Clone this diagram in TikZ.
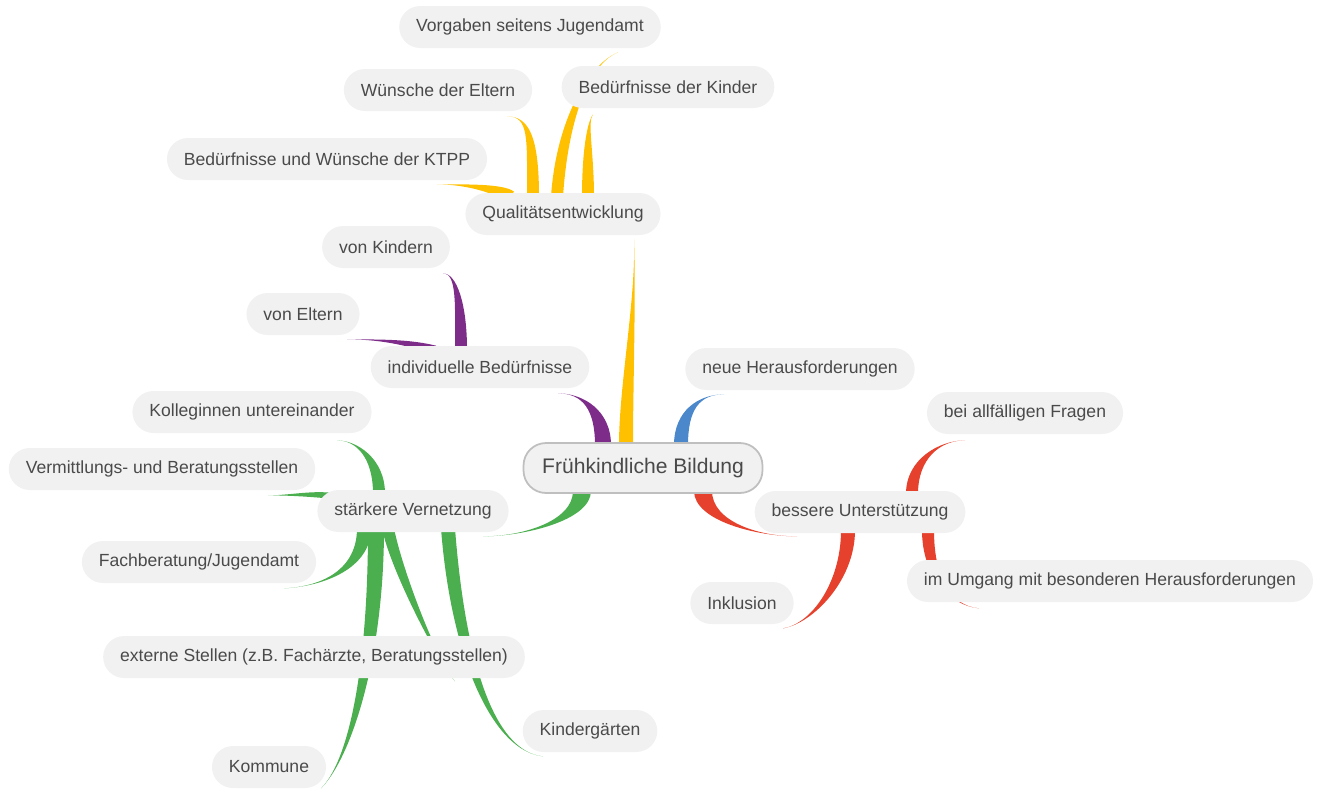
\documentclass[tikz,border=0pt]{standalone}
\usepackage{fontspec}
\setmainfont{Liberation Sans}
\usetikzlibrary{calc}
\pgfdeclarelayer{background}
\pgfsetlayers{background,main}

\definecolor{bubble}{RGB}{241,241,241}
\definecolor{ink}{RGB}{74,74,74}
\definecolor{yel}{RGB}{255,192,0}
\definecolor{pur}{RGB}{125,44,138}
\definecolor{blu}{RGB}{74,135,203}
\definecolor{rd}{RGB}{229,65,45}
\definecolor{grn}{RGB}{75,174,79}

% tapered branch: colour, half width, start anchor, shift, start ctrl, end ctrl, end anchor, shift
\newcommand{\twig}[8]{%
  \coordinate (tws) at ($(#3)+(#4)$);
  \coordinate (twe) at ($(#7)+(#8)$);
  \fill[#1] ($(tws)+(#2)$) .. controls +(#5) and +(#6) .. (twe)
    .. controls +(#6) and +(#5) .. ($(tws)-(#2)$) -- cycle;}

\begin{document}
\begin{tikzpicture}[
    x=0.02cm, y=-0.02cm,
    leaf/.style={fill=bubble, text=ink, rounded corners=0.42cm,
                 inner xsep=0.34cm, minimum height=0.84cm,
                 font=\fontsize{10}{12}\selectfont},
    hub/.style={fill=bubble, draw=black!25, line width=1pt, text=ink,
                rounded corners=0.45cm, minimum width=4.78cm,
                minimum height=1cm, font=\fontsize{12}{14}\selectfont}
]
    \useasboundingbox (0,0) rectangle (1335,789);

    % centre
    \node[hub] (root) at (643,468) {Frühkindliche Bildung};

    % Qualitaetsentwicklung
    \node[leaf] (qual) at (563,214) {Qualitätsentwicklung};
    \node[leaf] (vorg) at (530,27)  {Vorgaben seitens Jugendamt};
    \node[leaf] (kind) at (668,87)  {Bedürfnisse der Kinder};
    \node[leaf] (elt)  at (438,90)  {Wünsche der Eltern};
    \node[leaf] (ktpp) at (327,159) {Bedürfnisse und Wünsche der KTPP};

    % individuelle Beduerfnisse
    \node[leaf] (indi)  at (480,367) {individuelle Bedürfnisse};
    \node[leaf] (vkind) at (386,247) {von Kindern};
    \node[leaf] (velt)  at (303,314) {von Eltern};

    % neue Herausforderungen
    \node[leaf] (neue) at (800,369) {neue Herausforderungen};

    % bessere Unterstuetzung
    \node[leaf] (unter) at (860,512)  {bessere Unterstützung};
    \node[leaf] (frag)  at (1025,413) {bei allfälligen Fragen};
    \node[leaf] (umg)   at (1110,581) {im Umgang mit besonderen Herausforderungen};
    \node[leaf] (inkl)  at (742,603)  {Inklusion};

    % staerkere Vernetzung
    \node[leaf] (vern) at (413,511) {stärkere Vernetzung};
    \node[leaf] (koll) at (252,412) {Kolleginnen untereinander};
    \node[leaf] (verm) at (162,469) {Vermittlungs- und Beratungsstellen};
    \node[leaf] (fach) at (199,562) {Fachberatung/Jugendamt};
    \node[leaf] (ext)  at (314,657) {externe Stellen (z.B. Fachärzte, Beratungsstellen)};
    \node[leaf] (kg)   at (590,731) {Kindergärten};
    \node[leaf] (komm) at (269,767) {Kommune};

    \begin{pgfonlayer}{background}
    % main branches
    \twig{yel}{7,0}{root.north}{-17,3}{0,-60}{2,60}{qual.south}{71,4}
    \twig{pur}{8,0}{root.north}{-40,3}{0,-35}{25,0}{indi.south}{78,5}
    \twig{blu}{7,0}{root.north}{38,3}{0,-35}{-25,0}{neue.south}{-76,4}
    \twig{rd}{9,0}{root.south}{60,-3}{0,30}{-40,0}{unter.south}{-63,3}
    \twig{grn}{9,0}{root.south}{-61,-3}{0,30}{40,0}{vern.south}{70,4}

    % Qualitaetsentwicklung
    \twig{yel}{4,-5}{qual.north}{-53,4}{-10,-8}{30,0}{ktpp.south}{110,4}
    \twig{yel}{6,0}{qual.north}{-30,4}{0,-60}{22,0}{elt.south}{69,5}
    \twig{yel}{6,0}{qual.north}{-6,4}{5,-75}{-30,12}{vorg.south}{88,4}
    \twig{yel}{6,0}{qual.north}{25,4}{0,-45}{-6,8}{kind.south}{-75,6}

    % individuelle Beduerfnisse
    \twig{pur}{6,0}{indi.north}{-19,4}{0,-45}{14,0}{vkind.south}{57,5}
    \twig{pur}{0,4}{indi.north}{-44,4}{-25,-6}{40,0}{velt.south}{44,4}

    % staerkere Vernetzung
    \twig{grn}{6,0}{vern.north}{-34,4}{0,-35}{20,0}{koll.south}{85,7}
    \twig{grn}{0,3}{vern.north}{-83,6}{-20,-2}{20,0}{verm.south}{106,5}
    \twig{grn}{7,0}{vern.south}{-49,-4}{0,40}{40,-2}{fach.south}{85,5}
    \twig{grn}{6,0}{vern.south}{-25,-4}{8,40}{-20,-25}{ext.south}{141,3}
    \twig{grn}{8,0}{vern.south}{-37,-4}{0,130}{30,-30}{komm.south}{52,0}
    \twig{grn}{7,0}{vern.south}{35,-4}{10,130}{-50,-5}{kg.south}{-47,4}

    % bessere Unterstuetzung
    \twig{rd}{6,0}{unter.north}{52,3}{0,-35}{-25,0}{frag.south}{-60,6}
    \twig{rd}{6,0}{unter.south}{68,-3}{0,45}{-30,-3}{umg.south}{-131,6}
    \twig{rd}{7,0}{unter.south}{-12,-3}{0,50}{30,-5}{inkl.south}{41,4}
    \end{pgfonlayer}

\end{tikzpicture}
\end{document}
